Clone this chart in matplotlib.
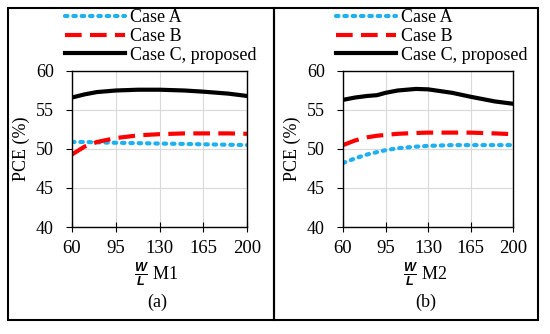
import numpy as np
import matplotlib.pyplot as plt
from matplotlib.patches import Rectangle

plt.rcParams['font.family'] = ['Liberation Serif', 'DejaVu Serif']
plt.rcParams['mathtext.fontset'] = 'custom'
plt.rcParams['mathtext.it'] = 'Liberation Sans:italic:bold'
plt.rcParams['mathtext.rm'] = 'Liberation Serif'

# --- data, panel (a): W/L of M1
x_a = [60, 70, 80, 95, 113, 130, 150, 165, 185, 200]
a_caseA = [50.9, 50.9, 50.85, 50.8, 50.75, 50.7, 50.65, 50.6, 50.55, 50.5]
a_caseB = [49.3, 50.3, 50.9, 51.4, 51.75, 51.9, 52.0, 52.0, 52.0, 51.95]
a_caseC = [56.6, 57.0, 57.3, 57.5, 57.6, 57.6, 57.5, 57.35, 57.1, 56.8]

# --- data, panel (b): W/L of M2
x_b = [60, 70, 80, 88, 95, 105, 120, 130, 150, 165, 185, 200]
b_caseA = [48.2, 48.8, 49.3, 49.6, 49.85, 50.1, 50.3, 50.4, 50.5, 50.5, 50.5, 50.5]
b_caseB = [50.5, 51.1, 51.5, 51.7, 51.8, 51.95, 52.05, 52.1, 52.1, 52.1, 52.0, 51.9]
b_caseC = [56.3, 56.6, 56.8, 56.9, 57.2, 57.5, 57.7, 57.65, 57.2, 56.7, 56.1, 55.8]

labels = ["Case A", "Case B", "Case C, proposed"]
xticks = [60, 95, 130, 165, 200]
yticks = [40, 45, 50, 55, 60]

fig = plt.figure(figsize=(5.5, 3.34), dpi=100)
W, H = 550, 334

# panel frames
for x0, x1 in [(8, 274), (274, 538)]:
    fig.add_artist(Rectangle((x0 / W, 1 - 320 / H), (x1 - x0) / W, (320 - 8) / H,
                             transform=fig.transFigure, fill=False,
                             edgecolor='black', linewidth=1.5))

panels = [
    ((72, 247), x_a, (a_caseA, a_caseB, a_caseC), "M1", "(a)"),
    ((343, 513), x_b, (b_caseA, b_caseB, b_caseC), "M2", "(b)"),
]

for (px0, px1), xs, (ya, yb, yc), mname, tag in panels:
    ax = fig.add_axes([px0 / W, 1 - 227 / H, (px1 - px0) / W, (227 - 71) / H])
    la, = ax.plot(xs, ya, color='#1fb0f0', linestyle=(0, (0.6, 1.4)),
                  linewidth=3, dash_capstyle='round')
    lb, = ax.plot(xs, yb, color='#ff0000', linestyle=(0, (4, 2)), linewidth=3)
    lc, = ax.plot(xs, yc, color='black', linewidth=3)
    ax.set_xlim(60, 200)
    ax.set_ylim(40, 60)
    ax.set_xticks(xticks)
    ax.set_yticks(yticks)
    ax.grid(True, color='#d9d9d9', linewidth=0.8)
    ax.set_axisbelow(True)
    for s in ax.spines.values():
        s.set_linewidth(1.0)
    ax.tick_params(axis='x', direction='inout', length=7, labelsize=13.5, pad=6)
    ax.tick_params(axis='y', direction='out', length=4, labelsize=13, pad=9)
    ax.set_ylabel("PCE (%)", fontsize=13, labelpad=4)
    cx = (px0 + px1) / 2 / W
    fig.text(cx - 0.005, 1 - 274 / H, r"$\frac{W}{L}$" + " " + mname,
             ha='center', va='center', fontsize=13)
    fig.text(cx - 0.005, 1 - 302 / H, tag, ha='center', va='center', fontsize=13)
    ax.legend([la, lb, lc], labels, loc='lower left',
              bbox_to_anchor=(-14 / (px1 - px0), 1.0),
              frameon=False, fontsize=13, handlelength=3.3, handletextpad=0.3,
              labelspacing=0.1, borderpad=0.0, borderaxespad=0.4)

fig.savefig("out.png", dpi=100)
